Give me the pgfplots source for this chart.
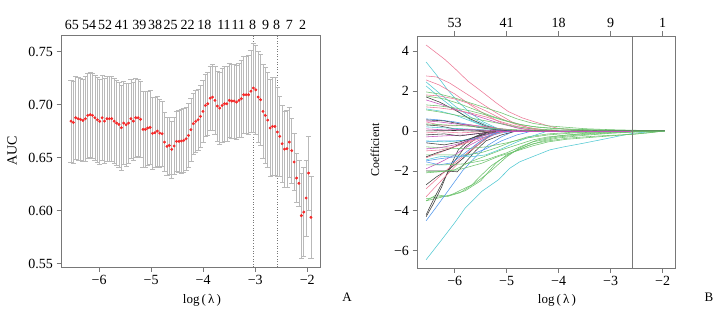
\documentclass[border=0pt]{standalone}
\usepackage{fontspec}
\setmainfont{Liberation Serif}
\usepackage{pgfplots}
\usepackage{pgfplotstable}
\pgfplotsset{compat=1.18}
\definecolor{cAx}{RGB}{120,120,120}
\definecolor{cErr}{RGB}{185,185,185}
\definecolor{cPt}{RGB}{245,40,40}
\definecolor{cK}{RGB}{60,60,60}
\definecolor{cR}{RGB}{236,120,150}
\definecolor{cG}{RGB}{110,195,110}
\definecolor{cB}{RGB}{80,150,235}
\definecolor{cC}{RGB}{80,200,210}
\definecolor{cM}{RGB}{195,80,185}

\pgfplotstableread{
x y e
-6.540 0.6845 0.0385
-6.494 0.6833 0.039
-6.448 0.6877 0.039
-6.402 0.6868 0.039
-6.356 0.6862 0.039
-6.310 0.6852 0.039
-6.263 0.6868 0.040
-6.217 0.6899 0.040
-6.171 0.6906 0.040
-6.125 0.6899 0.040
-6.079 0.6877 0.040
-6.033 0.6858 0.040
-5.987 0.6842 0.040
-5.941 0.6877 0.040
-5.895 0.6845 0.040
-5.849 0.6868 0.040
-5.802 0.6868 0.040
-5.756 0.6868 0.040
-5.710 0.6845 0.040
-5.664 0.6827 0.040
-5.618 0.6814 0.040
-5.572 0.6783 0.040
-5.526 0.6827 0.039
-5.480 0.6811 0.039
-5.434 0.6827 0.038
-5.388 0.6868 0.037
-5.341 0.6845 0.037
-5.295 0.6877 0.037
-5.249 0.6877 0.036
-5.203 0.6862 0.036
-5.157 0.6767 0.036
-5.111 0.6767 0.036
-5.065 0.6780 0.035
-5.019 0.6786 0.035
-4.973 0.6730 0.034
-4.927 0.6736 0.033
-4.880 0.6751 0.033
-4.834 0.6732 0.032
-4.788 0.6726 0.031
-4.742 0.6647 0.028
-4.696 0.6607 0.027
-4.650 0.6616 0.027
-4.604 0.6578 0.027
-4.558 0.6610 0.027
-4.512 0.6654 0.028
-4.466 0.6654 0.029
-4.419 0.6657 0.030
-4.373 0.6663 0.030
-4.327 0.6679 0.030
-4.281 0.6710 0.030
-4.235 0.6764 0.030
-4.189 0.6821 0.029
-4.143 0.6842 0.029
-4.097 0.6858 0.029
-4.051 0.6890 0.029
-4.005 0.6937 0.029
-3.958 0.6993 0.029
-3.912 0.7009 0.030
-3.866 0.7062 0.030
-3.820 0.7072 0.031
-3.774 0.7041 0.032
-3.728 0.6987 0.033
-3.682 0.6968 0.034
-3.636 0.6993 0.035
-3.590 0.7009 0.035
-3.544 0.7009 0.035
-3.497 0.7041 0.035
-3.451 0.7035 0.035
-3.405 0.7035 0.035
-3.359 0.7025 0.035
-3.313 0.7041 0.035
-3.267 0.7057 0.036
-3.221 0.7094 0.036
-3.175 0.7094 0.036
-3.129 0.7094 0.037
-3.083 0.7128 0.039
-3.036 0.7157 0.042
-2.990 0.7141 0.042
-2.944 0.7072 0.043
-2.898 0.7047 0.043
-2.852 0.6937 0.044
-2.806 0.6899 0.045
-2.760 0.6855 0.045
-2.714 0.6780 0.046
-2.668 0.6795 0.046
-2.622 0.6795 0.046
-2.575 0.6742 0.042
-2.529 0.6701 0.038
-2.483 0.6632 0.036
-2.437 0.6581 0.036
-2.391 0.6585 0.036
-2.345 0.6647 0.033
-2.299 0.6566 0.031
-2.253 0.6459 0.027
-2.207 0.6308 0.023
-2.161 0.6258 0.022
-2.114 0.5953 0.040
-2.068 0.5987 0.042
-2.022 0.6119 0.036
-1.976 0.6355 0.035
-1.930 0.5937 0.039
}\auc

\pgfplotsset{
  myax/.style={scale only axis, anchor=south west,
    axis line style={draw=cAx, line width=0.6bp},
    tick style={draw=cAx, line width=0.6bp},
    tick align=outside, major tick length=4.5bp,
    xtick pos=bottom, ytick pos=left,
    ticklabel style={font=\fontsize{14bp}{16bp}\selectfont, text=black},
  },
  cl/.style={line width=0.55bp, #1},
}

\begin{document}
\begin{tikzpicture}
\useasboundingbox (0,0) rectangle (719bp,-315bp);

% ---------- Panel A ----------
\begin{axis}[myax, at={(61bp,-267bp)}, width=259bp, height=232bp,
  xmin=-6.731, xmax=-1.756, ymin=0.5468, ymax=0.7658,
  xtick={-6,-5,-4,-3,-2}, xticklabels={−6,−5,−4,−3,−2},
  ytick={0.55,0.60,0.65,0.70,0.75}, yticklabels={0.55,0.60,0.65,0.70,0.75}]
\addplot[cAx, dotted, line width=0.6bp] coordinates {(-3.036,0.5468) (-3.036,0.7658)};
\addplot[cAx, dotted, line width=0.6bp] coordinates {(-2.575,0.5468) (-2.575,0.7658)};
\addplot[only marks, mark=*, mark size=1.25bp, color=cPt,
  error bars/.cd, y dir=both, y explicit,
  error bar style={draw=cErr, line width=0.55bp},
  error mark options={rotate=90, draw=cErr, mark size=2.6bp, line width=0.55bp}]
  table[x=x, y=y, y error=e] {\auc};
\end{axis}
\begin{axis}[scale only axis, anchor=south west, at={(61bp,-267bp)}, width=259bp, height=232bp,
  xmin=-6.731, xmax=-1.756, ymin=0, ymax=1,
  hide y axis, axis x line*=top, axis line style={draw=none},
  xtick={-6.524,-6.192,-5.885,-5.564,-5.226,-4.925,-4.623,-4.297,-3.978,-3.600,-3.325,-3.049,-2.80,-2.588,-2.346,-2.089},
  xticklabels={65,54,52,41,39,38,25,22,18,11,11,8,9,8,7,2},
  major tick length=0pt,
  xticklabel style={font=\fontsize{14bp}{16bp}\selectfont, yshift=1.5bp}]
\addplot[draw=none] coordinates {(-6,0.5)};
\end{axis}

% ---------- Panel B ----------
\begin{axis}[myax, at={(417bp,-268bp)}, width=258bp, height=232bp,
  xmin=-6.725, xmax=-1.763, ymin=-6.865, ymax=4.75,
  xtick={-6,-5,-4,-3,-2}, xticklabels={−6,−5,−4,−3,−2},
  ytick={-6,-4,-2,0,2,4}, yticklabels={−6,−4,−2,0,2,4}]
% positive paths
\addplot[cl=cR] coordinates {(-6.55,4.3)(-6.2,3.6)(-6.0,3.13)(-5.75,2.5)(-5.48,1.97)(-5.2,1.4)(-4.97,0.97)(-4.7,0.65)(-4.46,0.45)(-4.2,0.25)(-4.0,0.12)(-3.7,0.04)(-3.4,0)};
\addplot[cl=cC] coordinates {(-6.55,3.45)(-6.35,2.8)(-6.15,2.1)(-5.94,1.47)(-5.7,0.9)(-5.45,0.45)(-5.2,0.15)(-4.95,0)};
\addplot[cl=cR] coordinates {(-6.55,2.75)(-6.35,2.7)(-6.1,2.4)(-5.8,1.9)(-5.5,1.4)(-5.2,0.9)(-4.9,0.45)(-4.6,0.18)(-4.3,0.05)(-4.0,0)};
\addplot[cl=cR] coordinates {(-6.55,2.55)(-6.3,2.3)(-6.0,1.85)(-5.7,1.3)(-5.4,0.8)(-5.1,0.4)(-4.8,0.15)(-4.5,0)};
\addplot[cl=cC] coordinates {(-6.55,2.45)(-6.3,1.9)(-6.0,1.25)(-5.7,0.7)(-5.4,0.3)(-5.1,0.05)(-4.9,0)};
\addplot[cl=cC] coordinates {(-6.55,2.25)(-6.3,1.7)(-6.0,1.1)(-5.7,0.55)(-5.4,0.2)(-5.1,0)};
\addplot[cl=cG] coordinates {(-6.55,1.95)(-6.3,1.85)(-6.0,1.65)(-5.7,1.4)(-5.4,1.15)(-5.1,0.9)(-4.8,0.6)(-4.5,0.38)(-4.2,0.25)(-3.85,0.18)(-3.5,0.11)(-3.0,0.06)(-2.5,0.03)(-1.96,0)};
\addplot[cl=cR] coordinates {(-6.55,1.8)(-6.3,1.75)(-6.0,1.6)(-5.7,1.35)(-5.4,1.0)(-5.1,0.6)(-4.8,0.3)(-4.5,0.12)(-4.2,0.03)(-4.0,0)};
\addplot[cl=cG] coordinates {(-6.55,1.75)(-6.2,1.6)(-5.9,1.35)(-5.6,1.05)(-5.3,0.75)(-5.0,0.5)(-4.7,0.3)(-4.4,0.18)(-4.0,0.1)(-3.5,0.06)(-3.0,0.03)(-2.5,0.01)(-1.96,0)};
\addplot[cl=cK] coordinates {(-6.55,1.7)(-6.3,1.45)(-6.0,1.05)(-5.7,0.6)(-5.4,0.25)(-5.1,0.05)(-4.9,0)};
\addplot[cl=cM] coordinates {(-6.55,1.55)(-6.3,1.35)(-6.0,1.1)(-5.7,0.85)(-5.4,0.6)(-5.1,0.35)(-4.8,0.15)(-4.5,0.04)(-4.3,0)};
\addplot[cl=cG] coordinates {(-6.55,1.3)(-6.3,1.25)(-6.0,1.15)(-5.7,1.0)(-5.4,0.8)(-5.1,0.55)(-4.8,0.35)(-4.5,0.22)(-4.2,0.15)(-3.8,0.09)(-3.3,0.05)(-2.7,0.02)(-1.96,0)};
\addplot[cl=cR] coordinates {(-6.55,1.2)(-6.3,1.15)(-6.0,1.05)(-5.7,0.9)(-5.4,0.7)(-5.1,0.45)(-4.8,0.22)(-4.5,0.08)(-4.2,0)};
\addplot[cl=cC] coordinates {(-6.55,1.1)(-6.3,1.0)(-6.0,0.8)(-5.7,0.5)(-5.4,0.2)(-5.1,0)};
\addplot[cl=cG] coordinates {(-6.55,1.05)(-6.3,0.95)(-6.0,0.8)(-5.7,0.65)(-5.4,0.5)(-5.1,0.35)(-4.8,0.2)(-4.5,0.1)(-4.0,0.04)(-3.0,0.01)(-1.96,0)};
\addplot[cl=cB] coordinates {(-6.55,0.6)(-6.3,0.55)(-6.0,0.45)(-5.7,0.3)(-5.4,0.15)(-5.1,0.05)(-4.9,0)};
\addplot[cl=cK] coordinates {(-6.55,0.55)(-6.2,0.5)(-5.9,0.35)(-5.6,0.2)(-5.3,0.08)(-5.0,0)};
\addplot[cl=cM] coordinates {(-6.55,0.5)(-6.3,0.45)(-6.0,0.35)(-5.7,0.3)(-5.4,0.2)(-5.1,0.1)(-4.8,0.03)(-4.6,0)};
\addplot[cl=cR] coordinates {(-6.55,0.45)(-6.3,0.3)(-6.0,0.25)(-5.7,0.3)(-5.4,0.2)(-5.1,0.1)(-4.8,0)};
\addplot[cl=cG] coordinates {(-6.55,0.35)(-6.2,0.3)(-5.8,0.25)(-5.4,0.15)(-5.0,0.08)(-4.6,0.03)(-4.2,0)};
\addplot[cl=cK] coordinates {(-6.55,0.3)(-6.3,0.25)(-6.0,0.1)(-5.7,0.05)(-5.4,0)};
\addplot[cl=cC] coordinates {(-6.55,0.2)(-6.2,0.15)(-5.8,0.1)(-5.4,0.05)(-5.0,0)};
\addplot[cl=cM] coordinates {(-6.55,0.1)(-6.2,0.05)(-5.8,0.08)(-5.4,0.03)(-5.0,0)};
% negative paths
\addplot[cl=cC] coordinates {(-6.55,-6.45)(-6.25,-5.45)(-6.0,-4.6)(-5.8,-3.87)(-5.48,-3.03)(-5.16,-2.45)(-4.94,-1.87)(-4.75,-1.55)(-4.49,-1.28)(-4.17,-0.95)(-3.9,-0.8)(-3.53,-0.62)(-3.2,-0.45)(-2.88,-0.28)(-2.57,-0.12)(-2.31,-0.06)(-1.96,0)};
\addplot[cl=cG] coordinates {(-6.55,-3.5)(-6.3,-3.35)(-6.0,-3.15)(-5.8,-3.0)(-5.5,-2.5)(-5.2,-1.6)(-5.0,-1.2)(-4.75,-0.9)(-4.5,-0.65)(-4.2,-0.5)(-3.85,-0.37)(-3.5,-0.3)(-3.2,-0.25)(-2.57,-0.17)(-2.3,-0.1)(-1.96,0)};
\addplot[cl=cG] coordinates {(-6.55,-3.4)(-6.3,-3.3)(-6.1,-3.25)(-5.9,-3.1)(-5.6,-2.6)(-5.3,-2.0)(-5.0,-1.3)(-4.75,-0.85)(-4.5,-0.55)(-4.0,-0.3)(-3.5,-0.18)(-3.0,-0.1)(-2.5,-0.05)(-1.96,0)};
\addplot[cl=cG] coordinates {(-6.55,-3.5)(-6.35,-3.2)(-6.13,-3.28)(-5.87,-2.95)(-5.67,-2.7)(-5.48,-2.2)(-5.3,-1.75)(-5.1,-1.4)(-4.9,-1.1)(-4.6,-0.75)(-4.3,-0.5)(-4.0,-0.35)(-3.5,-0.22)(-3.0,-0.12)(-2.5,-0.05)(-1.96,0)};
\addplot[cl=cK] coordinates {(-6.55,-4.3)(-6.4,-3.6)(-6.25,-2.8)(-6.12,-1.95)(-5.93,-0.95)(-5.7,-0.4)(-5.45,-0.1)(-5.2,0)};
\addplot[cl=cK] coordinates {(-6.55,-4.2)(-6.4,-3.4)(-6.2,-2.4)(-6.0,-1.5)(-5.8,-0.8)(-5.55,-0.3)(-5.3,0)};
\addplot[cl=cB] coordinates {(-6.55,-4.5)(-6.35,-3.8)(-6.1,-2.9)(-5.85,-2.0)(-5.6,-1.3)(-5.35,-0.7)(-5.1,-0.3)(-4.85,0)};
\addplot[cl=cR] coordinates {(-6.55,-3.3)(-6.3,-2.6)(-6.0,-1.8)(-5.75,-1.1)(-5.5,-0.5)(-5.25,-0.15)(-5.0,0)};
\addplot[cl=cK] coordinates {(-6.55,-2.7)(-6.35,-2.3)(-6.1,-1.9)(-5.85,-1.4)(-5.6,-0.8)(-5.35,-0.3)(-5.1,0)};
\addplot[cl=cR] coordinates {(-6.55,-2.9)(-6.3,-2.3)(-6.0,-1.6)(-5.7,-1.0)(-5.4,-0.4)(-5.1,0)};
\addplot[cl=cK] coordinates {(-6.55,-2.0)(-6.2,-2.0)(-5.95,-2.05)(-5.8,-1.6)(-5.6,-1.0)(-5.4,-0.5)(-5.1,-0.2)(-4.8,0)};
\addplot[cl=cG] coordinates {(-6.55,-2.05)(-6.25,-2.03)(-5.93,-1.95)(-5.48,-1.62)(-5.16,-1.28)(-4.84,-1.03)(-4.5,-0.75)(-4.2,-0.55)(-3.85,-0.42)(-3.5,-0.35)(-3.0,-0.25)(-2.5,-0.15)(-2.2,-0.08)(-1.96,0)};
\addplot[cl=cM] coordinates {(-6.55,-1.9)(-6.3,-1.6)(-6.0,-1.2)(-5.7,-0.7)(-5.4,-0.3)(-5.1,0)};
\addplot[cl=cB] coordinates {(-6.55,-1.5)(-6.3,-1.4)(-6.0,-1.3)(-5.7,-1.2)(-5.4,-0.9)(-5.1,-0.5)(-4.8,-0.2)(-4.5,0)};
\addplot[cl=cG] coordinates {(-6.55,-1.2)(-6.2,-1.2)(-5.8,-1.2)(-5.5,-1.1)(-5.2,-0.85)(-4.9,-0.55)(-4.6,-0.3)(-4.2,-0.15)(-3.8,-0.08)(-3.0,-0.03)(-1.96,0)};
\addplot[cl=cC] coordinates {(-6.55,-1.45)(-6.3,-1.3)(-6.0,-1.25)(-5.7,-1.3)(-5.4,-1.2)(-5.1,-0.9)(-4.8,-0.55)(-4.5,-0.25)(-4.2,0)};
\addplot[cl=cR] coordinates {(-6.55,-1.35)(-6.3,-1.1)(-6.0,-0.8)(-5.7,-0.5)(-5.4,-0.2)(-5.1,0)};
\addplot[cl=cK] coordinates {(-6.55,-1.3)(-6.35,-1.1)(-6.1,-0.9)(-5.85,-0.6)(-5.6,-0.3)(-5.3,0)};
\addplot[cl=cB] coordinates {(-6.55,-0.55)(-6.3,-0.5)(-6.0,-0.5)(-5.7,-0.45)(-5.4,-0.3)(-5.1,-0.1)(-4.8,0)};
\addplot[cl=cC] coordinates {(-6.55,-0.5)(-6.2,-0.55)(-5.9,-0.5)(-5.6,-0.35)(-5.3,-0.15)(-5.0,0)};
\addplot[cl=cM] coordinates {(-6.55,-0.3)(-6.2,-0.25)(-5.8,-0.2)(-5.4,-0.1)(-5.0,0)};
\addplot[cl=cK] coordinates {(-6.55,-0.2)(-6.2,-0.15)(-5.9,-0.25)(-5.6,-0.15)(-5.3,-0.05)(-5.0,0)};
\addplot[cl=cR] coordinates {(-6.55,-0.1)(-6.25,-0.05)(-5.9,-0.1)(-5.5,-0.05)(-5.1,0)};
\addplot[cl=cG] coordinates {(-6.55,-0.8)(-6.2,-0.85)(-5.8,-0.9)(-5.4,-0.8)(-5.0,-0.6)(-4.6,-0.35)(-4.2,-0.2)(-3.7,-0.1)(-3.0,-0.04)(-1.96,0)};
\addplot[cl=cK] coordinates {(-6.55,-0.6)(-6.2,-0.7)(-5.9,-0.55)(-5.6,-0.3)(-5.3,-0.1)(-5.0,0)};
\addplot[cl=cM] coordinates {(-6.55,-0.9)(-6.3,-0.85)(-6.0,-0.7)(-5.7,-0.45)(-5.4,-0.2)(-5.1,0)};
\addplot[cl=cR] coordinates {(-6.55,-1.0)(-6.25,-0.95)(-5.95,-0.75)(-5.65,-0.5)(-5.35,-0.25)(-5.05,-0.05)(-4.9,0)};
\addplot[cl=cB] coordinates {(-6.55,-1.55)(-6.3,-1.7)(-6.05,-1.6)(-5.8,-1.1)(-5.55,-0.6)(-5.3,-0.2)(-5.1,0)};
\addplot[cl=cG] coordinates {(-6.55,-1.7)(-6.2,-1.7)(-5.8,-1.65)(-5.4,-1.45)(-5.0,-1.1)(-4.7,-0.75)(-4.4,-0.45)(-4.0,-0.25)(-3.5,-0.12)(-3.0,-0.05)(-2.3,0)(-1.96,0)};
\addplot[cl=cG] coordinates {(-6.55,-2.1)(-6.3,-2.05)(-6.0,-1.95)(-5.7,-1.55)(-5.4,-1.25)(-5.1,-0.95)(-4.8,-0.7)(-4.5,-0.45)(-4.2,-0.3)(-3.8,-0.2)(-3.2,-0.1)(-2.6,-0.04)(-1.96,0)};
\addplot[cl=cK] coordinates {(-6.55,0)(-6.0,0.02)(-5.5,-0.02)(-5.0,0)(-1.96,0)};
\addplot[cl=cM] coordinates {(-5.2,0)(-2.6,0)};
\addplot[cAx, line width=0.7bp] coordinates {(-2.58,-6.865) (-2.58,4.75)};
\end{axis}
\begin{axis}[scale only axis, anchor=south west, at={(417bp,-268bp)}, width=258bp, height=232bp,
  xmin=-6.725, xmax=-1.763, ymin=0, ymax=1,
  hide y axis, axis x line*=top, axis line style={draw=none},
  tick style={draw=cAx, line width=0.6bp}, tick align=outside, major tick length=4.5bp,
  xtick={-6,-5,-4,-3,-2}, xticklabels={53,41,18,9,1},
  xticklabel style={font=\fontsize{14bp}{16bp}\selectfont}]
\addplot[draw=none] coordinates {(-6,0.5)};
\end{axis}

% ---------- labels ----------
\node[rotate=90, font=\fontsize{14bp}{16bp}\selectfont] at (12bp,-151bp) {AUC};
\node[font=\fontsize{13bp}{15bp}\selectfont] at (202bp,-300bp) {log\,(\,λ\,)};
\node[font=\fontsize{13bp}{15bp}\selectfont] at (347bp,-297bp) {A};
\node[rotate=90, font=\fontsize{12bp}{14bp}\selectfont] at (375bp,-150bp) {Coefficient};
\node[font=\fontsize{13bp}{15bp}\selectfont] at (557bp,-300bp) {log\,(\,λ\,)};
\node[font=\fontsize{13bp}{15bp}\selectfont] at (709bp,-297bp) {B};
\end{tikzpicture}
\end{document}
